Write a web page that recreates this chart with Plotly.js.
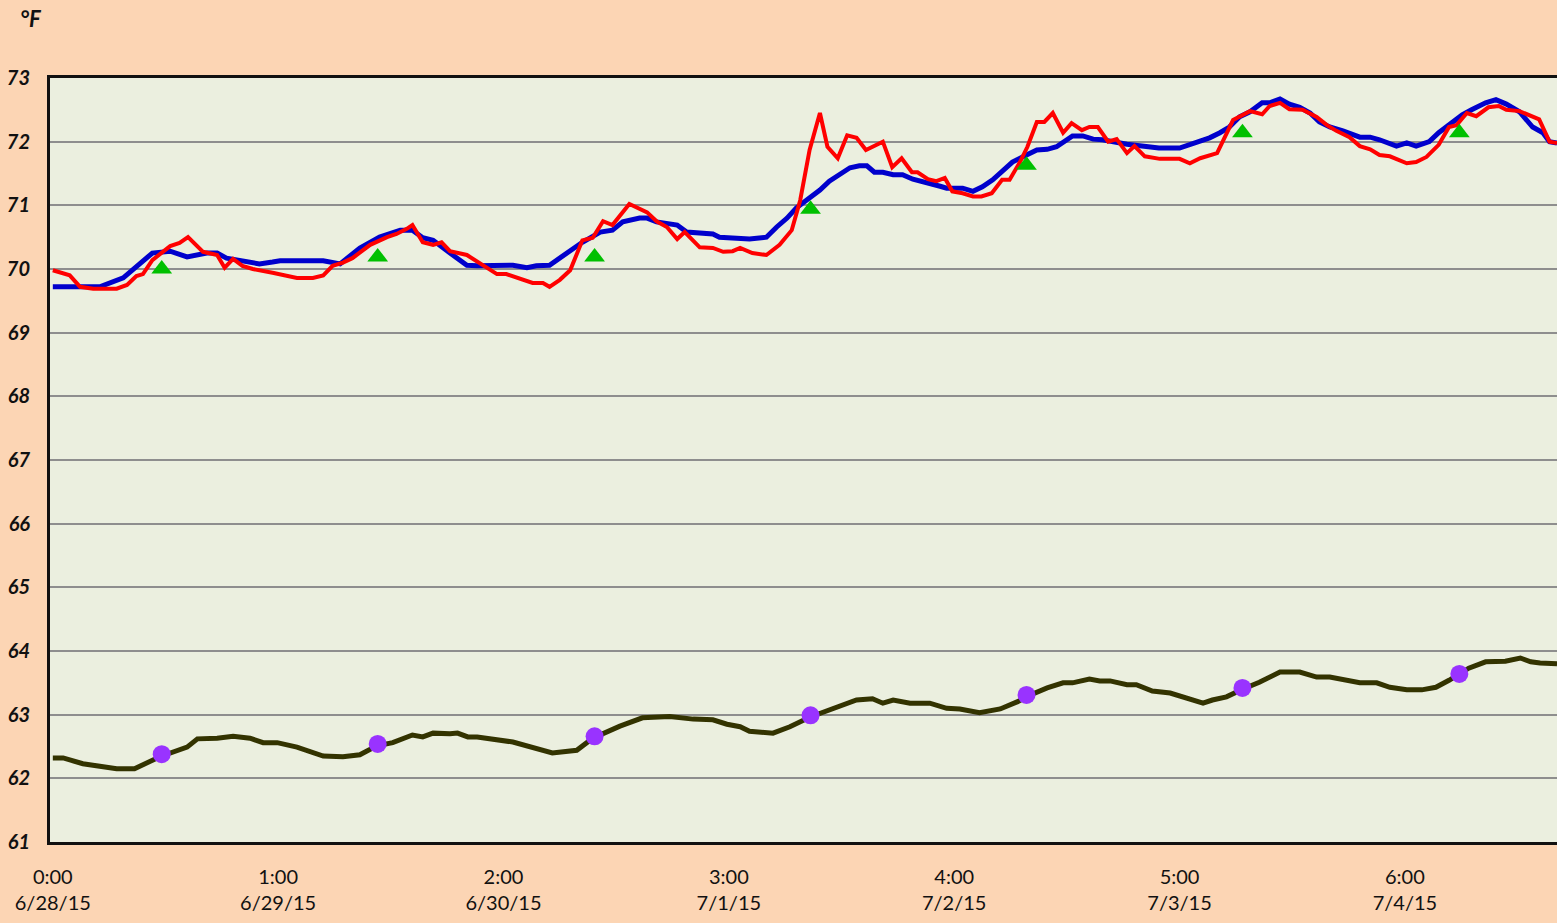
<!DOCTYPE html>
<html>
<head>
<meta charset="utf-8">
<script src="https://cdn.plot.ly/plotly-3.0.1.min.js"></script>
<style>html,body{margin:0;padding:0;background:#FCD5B4;}#chart{width:1557px;height:923px;}</style>
</head>
<body>
<div id="chart"></div>
<script>
// time in hours since 6/28/15 0:00 ; values in °F
const blueHours = [0,5.0,7.5,10.6,12.5,14.3,16.4,17.5,18.5,19.9,22.0,23.4,24.2,28.8,29.8,30.6,32.7,34.8,37.0,38.3,39.4,40.5,42.3,44.1,45.2,49.0,50.5,51.5,52.9,54.7,56.4,58.3,59.6,60.7,62.5,63.3,64.3,66.5,67.5,70.3,71.0,74.2,76.0,77.1,78.2,79.2,80.6,81.7,82.7,83.8,84.9,85.9,86.7,87.5,88.4,89.5,90.5,91.6,92.7,93.4,94.5,95.2,96.9,98.0,99.0,100.1,101.6,102.2,103.7,104.8,105.9,106.9,108.6,109.7,110.8,111.8,114.4,115.8,117.1,117.8,120.0,121.8,123.2,124.3,125.3,126.4,127.5,128.8,129.6,130.7,131.7,132.8,133.9,134.9,136.0,137.4,139.2,140.3,141.3,143.1,144.2,145.2,146.6,147.6,149.0,150.1,151.1,152.6,153.7,154.8,156.2,157.6,158.7,159.4,160.2];
const blueValues = [69.72,69.72,69.86,70.25,70.28,70.19,70.25,70.25,70.17,70.13,70.08,70.11,70.13,70.13,70.10,70.08,70.33,70.50,70.61,70.61,70.49,70.45,70.25,70.06,70.05,70.06,70.02,70.05,70.06,70.24,70.42,70.58,70.61,70.74,70.80,70.80,70.74,70.69,70.58,70.55,70.50,70.47,70.50,70.66,70.80,70.96,71.11,71.24,71.38,71.48,71.59,71.62,71.62,71.52,71.52,71.48,71.48,71.41,71.37,71.36,71.30,71.27,71.27,71.22,71.29,71.40,71.59,71.68,71.79,71.87,71.88,71.92,72.09,72.09,72.04,72.03,71.96,71.93,71.92,71.90,71.90,71.98,72.06,72.14,72.23,72.39,72.47,72.61,72.61,72.67,72.59,72.54,72.45,72.31,72.23,72.17,72.07,72.07,72.03,71.93,71.98,71.93,72.00,72.14,72.29,72.42,72.50,72.61,72.66,72.59,72.47,72.23,72.14,72.00,71.98];

const redHours = [0,1.8,2.9,4.3,6.8,7.9,8.9,9.6,10.6,12.5,13.5,14.4,16.0,17.5,18.3,19.2,20.2,21.3,23.4,24.9,26.0,27.7,28.8,29.8,30.9,31.9,33.8,35.6,36.6,37.7,38.3,39.4,40.5,41.4,42.3,44.1,45.8,47.3,48.3,49.4,51.1,52.2,52.9,54.0,55.1,56.4,57.5,58.6,59.6,61.4,63.3,64.3,65.4,66.5,67.3,68.9,70.3,71.4,72.4,73.2,74.5,76.0,77.4,78.7,79.6,80.6,81.7,82.5,83.6,84.6,85.6,86.6,88.4,89.4,90.4,91.5,92.1,93.2,94.1,95.0,95.8,96.9,98.0,98.9,100.0,101.1,101.9,103.0,103.8,104.8,105.6,106.5,107.6,108.5,109.6,110.4,111.3,112.4,113.3,114.4,115.2,116.3,117.9,120.0,121.1,122.2,124.0,125.7,127.5,128.8,129.6,130.7,131.7,133.1,134.6,135.7,136.7,138.1,139.2,140.3,141.3,142.4,144.2,145.2,146.3,147.6,148.7,149.5,150.6,151.6,152.9,154.0,154.8,156.2,158.3,159.4,160.2];
const redValues = [69.98,69.90,69.72,69.69,69.69,69.75,69.89,69.92,70.14,70.36,70.41,70.50,70.27,70.22,70.02,70.16,70.05,70.00,69.94,69.90,69.86,69.86,69.90,70.05,70.10,70.17,70.38,70.50,70.55,70.63,70.69,70.42,70.38,70.42,70.28,70.22,70.06,69.92,69.92,69.86,69.78,69.78,69.72,69.83,69.98,70.45,70.49,70.75,70.69,71.02,70.89,70.75,70.66,70.47,70.58,70.34,70.33,70.27,70.28,70.33,70.25,70.22,70.38,70.61,71.08,71.87,72.45,71.92,71.74,72.10,72.06,71.87,72.00,71.60,71.74,71.52,71.52,71.41,71.38,71.43,71.22,71.19,71.14,71.14,71.19,71.40,71.40,71.68,71.92,72.31,72.31,72.45,72.14,72.29,72.18,72.23,72.23,72.00,72.04,71.82,71.93,71.77,71.73,71.73,71.66,71.74,71.82,72.34,72.48,72.43,72.56,72.61,72.51,72.50,72.39,72.26,72.17,72.07,71.93,71.88,71.79,71.77,71.66,71.68,71.76,71.95,72.23,72.26,72.45,72.40,72.54,72.56,72.50,72.48,72.35,72.00,71.98];

const darkHours = [0,1.1,3.2,6.8,8.7,11.4,14.3,15.4,17.5,19.2,21.0,22.4,23.9,26.0,28.8,29.8,30.9,32.7,34.5,36.2,38.3,39.4,40.5,42.3,43.1,44.2,45.2,49.0,51.9,53.2,55.8,57.5,60.4,62.8,65.7,68.2,70.3,71.8,73.2,74.2,76.7,78.5,80.6,82.7,83.8,85.6,87.3,88.4,89.5,91.3,93.4,95.2,96.6,98.7,100.9,102.7,103.8,105.9,107.6,108.6,110.4,111.5,112.6,114.4,115.4,117.1,119.0,120.8,122.5,123.5,125.0,126.7,128.5,130.7,132.8,134.6,136.0,139.2,141.0,142.4,144.2,145.8,147.3,148.7,149.8,150.8,152.6,154.7,156.3,157.4,158.4,160.2];
const darkValues = [62.32,62.32,62.23,62.15,62.15,62.34,62.49,62.62,62.63,62.66,62.63,62.56,62.56,62.49,62.35,62.35,62.34,62.37,62.51,62.56,62.68,62.65,62.71,62.70,62.71,62.65,62.65,62.57,62.44,62.40,62.44,62.63,62.82,62.95,62.97,62.93,62.92,62.85,62.81,62.74,62.71,62.81,62.96,63.07,63.12,63.23,63.25,63.18,63.23,63.18,63.18,63.10,63.09,63.03,63.09,63.20,63.29,63.42,63.50,63.50,63.56,63.53,63.53,63.47,63.47,63.37,63.34,63.25,63.18,63.23,63.28,63.40,63.51,63.67,63.67,63.59,63.59,63.50,63.50,63.43,63.39,63.39,63.43,63.54,63.64,63.73,63.83,63.84,63.89,63.83,63.81,63.80];

const triangleHours = [11.6,34.6,57.7,80.7,103.7,126.7,149.8];
const triangleValues = [70.00,70.19,70.19,70.94,71.63,72.14,72.14];
const dotHours = [11.6,34.6,57.7,80.7,103.7,126.7,149.8];
const dotValues = [62.38,62.54,62.66,62.99,63.31,63.42,63.64];

const tickHours = [0,24,48,72,96,120,144];
const tickLabels = ['0:00<br>6/28/15','1:00<br>6/29/15','2:00<br>6/30/15','3:00<br>7/1/15','4:00<br>7/2/15','5:00<br>7/3/15','6:00<br>7/4/15'];
const yTicks = [61,62,63,64,65,66,67,68,69,70,71,72,73];

const traces = [
  {x: darkHours, y: darkValues, type:'scatter', mode:'lines', line:{color:'#333300', width:5}, hoverinfo:'skip'},
  {x: blueHours, y: blueValues, type:'scatter', mode:'lines', line:{color:'#0000CC', width:5}, hoverinfo:'skip'},
  {x: redHours, y: redValues, type:'scatter', mode:'lines', line:{color:'#FF0000', width:4}, hoverinfo:'skip'},
  {x: triangleHours, y: triangleValues, type:'scatter', mode:'markers', marker:{symbol:'triangle-up', size:18, color:'#00C000'}, hoverinfo:'skip'},
  {x: dotHours, y: dotValues, type:'scatter', mode:'markers', marker:{symbol:'circle', size:18, color:'#9933FF'}, hoverinfo:'skip'}
];

const layout = {
  width:1557, height:923,
  paper_bgcolor:'#FCD5B4',
  plot_bgcolor:'#EBEFDF',
  showlegend:false,
  margin:{l:50, r:0, t:78, b:81, pad:0},
  font:{family:'Lato, "Open Sans", sans-serif', color:'#111111'},
  xaxis:{
    range:[-0.3,160.2],
    tickvals: tickHours, ticktext: tickLabels,
    tickfont:{size:20, color:'#111111'},
    showgrid:false, zeroline:false,
    showline:true, linecolor:'#111111', linewidth:3, mirror:true,
    ticks:'', ticklabelstandoff:15
  },
  yaxis:{
    range:[61,73],
    tickvals: yTicks,
    tickfont:{size:20, color:'#111111', weight:'bold', style:'italic'},
    showgrid:true, gridcolor:'#8E8E8E', gridwidth:2,
    zeroline:false,
    showline:true, linecolor:'#111111', linewidth:3,
    ticks:'', ticklabelstandoff:13
  },
  annotations:[
    {text:'°F', xref:'paper', yref:'paper', x:-0.0126, y:1.0785, xanchor:'center', yanchor:'middle', showarrow:false,
     font:{size:22, color:'#111111', weight:'bold', style:'italic'}}
  ]
};

Plotly.newPlot('chart', traces, layout, {staticPlot:true, displayModeBar:false});
</script>
</body>
</html>
